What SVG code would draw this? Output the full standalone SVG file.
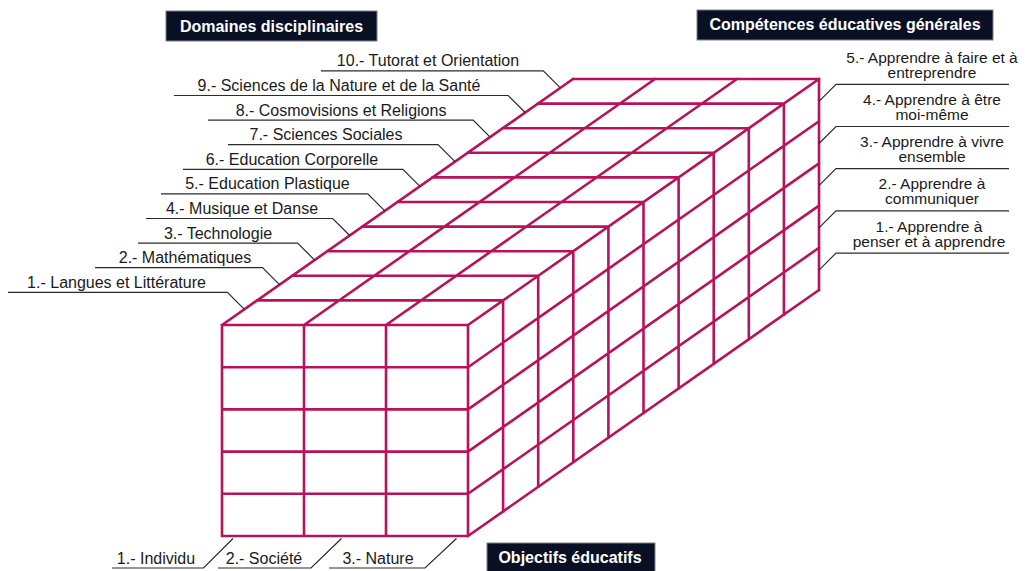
<svg xmlns="http://www.w3.org/2000/svg" width="1025" height="571" viewBox="0 0 1025 571">
<style>
.cube{fill:none;stroke:#b8125a;stroke-width:2.6;stroke-linecap:square;stroke-linejoin:miter}
.lead{fill:none;stroke:#2b2b2b;stroke-width:1.2}
.lbl{font-family:"Liberation Sans",Arial,Helvetica,sans-serif;font-size:16px;fill:#1a1a1a;text-anchor:middle}
.rl{font-size:15.5px}
.box{fill:#0a1024;stroke:#7a7f8a;stroke-width:1}
.ttl{font-family:"Liberation Sans",Arial,Helvetica,sans-serif;font-size:16px;font-weight:bold;fill:#ffffff;text-anchor:middle}
</style>
<rect width="1025" height="571" fill="#ffffff"/>

<g id="cube">
<path class="cube" d="
M222 325H468M222 367.2H468M222 409.4H468M222 451.6H468M222 493.8H468M222 536H468
M222 325V536M304 325V536M386 325V536M468 325V536
M257.1 300.4H503.1M292.2 275.8H538.2M327.3 251.2H573.3M362.4 226.6H608.4M397.5 202H643.5
M432.6 177.4H678.6M467.7 152.8H713.7M502.8 128.2H748.8M537.9 103.6H783.9M573 79H819
M222 325L573 79M304 325L655 79M386 325L737 79M468 325L819 79
M503.1 300.4V511.4M538.2 275.8V486.8M573.3 251.2V462.2M608.4 226.6V437.6M643.5 202V413
M678.6 177.4V388.4M713.7 152.8V363.8M748.8 128.2V339.2M783.9 103.6V314.6M819 79V290
M468 367.2L819 121.2M468 409.4L819 163.4M468 451.6L819 205.6M468 493.8L819 247.8M468 536L819 290"/>
</g>

<g id="connectors">
<path class="lead" d="M8 292.3H227.4L244.4 309.3"/>
<path class="lead" d="M95 267.7H262.5L279.5 284.7"/>
<path class="lead" d="M138 243.1H297.6L314.6 260.1"/>
<path class="lead" d="M146 218.5H332.7L349.7 235.5"/>
<path class="lead" d="M161 193.9H367.8L384.8 210.9"/>
<path class="lead" d="M183 169.3H402.9L419.9 186.3"/>
<path class="lead" d="M228 144.7H438L455 161.7"/>
<path class="lead" d="M208 120.1H473.1L490.1 137.1"/>
<path class="lead" d="M174 95.5H508.2L525.2 112.5"/>
<path class="lead" d="M321 70.9H543.3L560.3 87.9"/>

<path class="lead" d="M1009 84.3H836L819 101.3"/>
<path class="lead" d="M1009 126.5H836L819 143.5"/>
<path class="lead" d="M1009 168.7H836L819 185.7"/>
<path class="lead" d="M1009 210.9H836L819 227.9"/>
<path class="lead" d="M1009 253.1H836L819 270.1"/>

<path class="lead" d="M112 568H203.5L233 538.5"/>
<path class="lead" d="M218 568H311L341.5 538.5"/>
<path class="lead" d="M329 568H425L456.5 538.5"/>
</g>

<g id="title-domaines">
<rect class="box" x="166" y="11" width="211" height="30"/>
<text class="ttl" x="271.5" y="31.5">Domaines disciplinaires</text>
</g>
<g id="title-competences">
<rect class="box" x="697" y="10" width="296" height="30"/>
<text class="ttl" x="845" y="30">Compétences éducatives générales</text>
</g>
<g id="title-objectifs">
<rect class="box" x="487" y="543" width="168" height="32"/>
<text class="ttl" x="570" y="562.5">Objectifs éducatifs</text>
</g>

<g id="domaine-1"><text class="lbl" x="116.5" y="287.8">1.- Langues et Littérature</text></g>
<g id="domaine-2"><text class="lbl" x="185" y="263.2">2.- Mathématiques</text></g>
<g id="domaine-3"><text class="lbl" x="218" y="238.6">3.- Technologie</text></g>
<g id="domaine-4"><text class="lbl" x="242" y="214">4.- Musique et Danse</text></g>
<g id="domaine-5"><text class="lbl" x="267.5" y="189.4">5.- Education Plastique</text></g>
<g id="domaine-6"><text class="lbl" x="292" y="164.8">6.- Education Corporelle</text></g>
<g id="domaine-7"><text class="lbl" x="326" y="140.2">7.- Sciences Sociales</text></g>
<g id="domaine-8"><text class="lbl" x="341" y="115.6">8.- Cosmovisions et Religions</text></g>
<g id="domaine-9"><text class="lbl" x="339" y="91">9.- Sciences de la Nature et de la Santé</text></g>
<g id="domaine-10"><text class="lbl" x="428" y="66.4">10.- Tutorat et Orientation</text></g>

<g id="competence-5"><text class="lbl rl" x="932" y="62.8">5.- Apprendre à faire et à</text><text class="lbl rl" x="932" y="77.8">entreprendre</text></g>
<g id="competence-4"><text class="lbl rl" x="932" y="105">4.- Apprendre à être</text><text class="lbl rl" x="932" y="120">moi-même</text></g>
<g id="competence-3"><text class="lbl rl" x="932" y="147.2">3.- Apprendre à vivre</text><text class="lbl rl" x="932" y="162.2">ensemble</text></g>
<g id="competence-2"><text class="lbl rl" x="932" y="189.4">2.- Apprendre à</text><text class="lbl rl" x="932" y="204.4">communiquer</text></g>
<g id="competence-1"><text class="lbl rl" x="929" y="231.6">1.- Apprendre à</text><text class="lbl rl" x="929" y="246.6">penser et à apprendre</text></g>

<g id="objectif-1"><text class="lbl" x="156" y="563.5">1.- Individu</text></g>
<g id="objectif-2"><text class="lbl" x="264" y="563.5">2.- Société</text></g>
<g id="objectif-3"><text class="lbl" x="378" y="563.5">3.- Nature</text></g>
</svg>
